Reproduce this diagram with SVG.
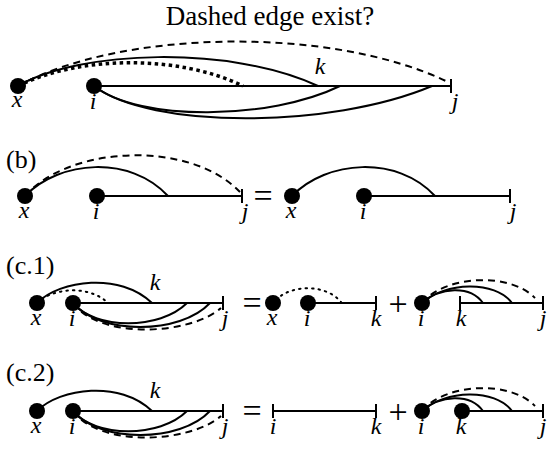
<svg xmlns="http://www.w3.org/2000/svg" width="547" height="450" viewBox="0 0 547 450">
<style>
.e{fill:none;stroke:#000;stroke-width:2}
.d{stroke-dasharray:7 5}
.dt{stroke-width:3.5;stroke-dasharray:3.5 3.5}
.ds{stroke-dasharray:1.5 5;stroke-linecap:round}
</style>
<g id="labels">
<text x="270" y="25" text-anchor="middle" font-size="27" font-family="Liberation Serif">Dashed edge exist?</text>
<text x="6" y="168" font-size="26" font-family="Liberation Serif">(b)</text>
<text x="6" y="274" font-size="26" font-family="Liberation Serif">(c.1)</text>
<text x="6" y="381" font-size="26" font-family="Liberation Serif">(c.2)</text>
</g>

<g id="connectors">
<path class="e" d="M94,86 H451"/>
<path class="e" d="M451,79 V93"/>
<path class="e d" d="M18,86 C120,30 330,25 448,82"/>
<path class="e" d="M18,86 C80,50 230,45 318,86"/>
<path class="e dt" d="M18,86 C80,55 180,55 243,86"/>
<path class="e" d="M94,86 C140,122 270,120 340,86"/>
<path class="e" d="M94,86 C150,129 330,129 432,86"/>
<path class="e" d="M97,196 H242"/>
<path class="e" d="M242,189 V203"/>
<path class="e" d="M25,196 C60,160 130,155 168,196"/>
<path class="e d" d="M25,196 C70,145 190,140 240,192"/>
<path class="e" d="M364,196 H510"/>
<path class="e" d="M510,189 V203"/>
<path class="e" d="M292,196 C327,160 397,155 435,196"/>
<path class="e" d="M73,303 H223"/>
<path class="e" d="M223,296 V310"/>
<path class="e" d="M37,303 C60,280 120,272 152,303"/>
<path class="e ds" d="M42,299 C60,287 90,287 107,302"/>
<path class="e" d="M73,303 C95,330 160,330 187,303"/>
<path class="e" d="M73,303 C100,335 180,335 210,303"/>
<path class="e d" d="M73,303 C100,340 190,335 221,308"/>
<path class="e" d="M308,303 H376"/>
<path class="e" d="M376,296 V310"/>
<path class="e ds" d="M276,300 C290,285 325,283 341,302"/>
<path class="e" d="M460,303 H543"/>
<path class="e" d="M460,296 V310"/>
<path class="e" d="M543,296 V310"/>
<path class="e" d="M422,303 C440,287 470,285 483,303"/>
<path class="e" d="M422,303 C445,282 495,280 512,303"/>
<path class="e d" d="M422,303 C445,275 510,272 535,298"/>
<path class="e" d="M73,411 H223"/>
<path class="e" d="M223,404 V418"/>
<path class="e" d="M37,411 C60,388 120,380 152,411"/>
<path class="e" d="M73,411 C95,438 160,438 187,411"/>
<path class="e" d="M73,411 C100,443 180,443 210,411"/>
<path class="e d" d="M73,411 C100,448 190,443 221,416"/>
<path class="e" d="M273,411 H376"/>
<path class="e" d="M273,404 V418"/>
<path class="e" d="M376,404 V418"/>
<path class="e" d="M462,411 H543"/>
<path class="e" d="M543,404 V418"/>
<path class="e" d="M422,411 C440,395 470,393 483,411"/>
<path class="e" d="M422,411 C445,390 495,388 512,411"/>
<path class="e d" d="M422,411 C445,383 510,380 535,406"/>
</g>

<g id="operators">
<text x="263" y="207" font-size="34" text-anchor="middle" font-family="Liberation Serif">=</text>
<text x="252" y="314" font-size="34" text-anchor="middle" font-family="Liberation Serif">=</text>
<text x="398" y="315" font-size="34" text-anchor="middle" font-family="Liberation Serif">+</text>
<text x="252" y="422" font-size="34" text-anchor="middle" font-family="Liberation Serif">=</text>
<text x="398" y="423" font-size="34" text-anchor="middle" font-family="Liberation Serif">+</text>
</g>

<g id="nodes">
<g id="r1-x"><circle cx="18" cy="86" r="8"/><text x="17" y="107" font-size="24" font-style="italic" text-anchor="middle" font-family="Liberation Serif">x</text></g>
<g id="r1-i"><circle cx="94" cy="86" r="8"/><text x="93" y="109" font-size="24" font-style="italic" text-anchor="middle" font-family="Liberation Serif">i</text></g>
<g id="r1-k"><text x="320" y="74" font-size="24" font-style="italic" text-anchor="middle" font-family="Liberation Serif">k</text></g>
<g id="r1-j"><text x="455" y="109" font-size="24" font-style="italic" text-anchor="middle" font-family="Liberation Serif">j</text></g>
<g id="rb-x"><circle cx="25" cy="196" r="8"/><text x="24" y="218" font-size="24" font-style="italic" text-anchor="middle" font-family="Liberation Serif">x</text></g>
<g id="rb-i"><circle cx="97" cy="196" r="8"/><text x="96" y="219" font-size="24" font-style="italic" text-anchor="middle" font-family="Liberation Serif">i</text></g>
<g id="rb-j"><text x="245" y="219" font-size="24" font-style="italic" text-anchor="middle" font-family="Liberation Serif">j</text></g>
<g id="rb-x2"><circle cx="292" cy="196" r="8"/><text x="291" y="218" font-size="24" font-style="italic" text-anchor="middle" font-family="Liberation Serif">x</text></g>
<g id="rb-i2"><circle cx="364" cy="196" r="8"/><text x="363" y="219" font-size="24" font-style="italic" text-anchor="middle" font-family="Liberation Serif">i</text></g>
<g id="rb-j2"><text x="513" y="219" font-size="24" font-style="italic" text-anchor="middle" font-family="Liberation Serif">j</text></g>
<g id="c1-x"><circle cx="37" cy="303" r="8"/><text x="36" y="325" font-size="24" font-style="italic" text-anchor="middle" font-family="Liberation Serif">x</text></g>
<g id="c1-i"><circle cx="73" cy="303" r="8"/><text x="72" y="326" font-size="24" font-style="italic" text-anchor="middle" font-family="Liberation Serif">i</text></g>
<g id="c1-k"><text x="155" y="290" font-size="24" font-style="italic" text-anchor="middle" font-family="Liberation Serif">k</text></g>
<g id="c1-j"><text x="225" y="326" font-size="24" font-style="italic" text-anchor="middle" font-family="Liberation Serif">j</text></g>
<g id="c1-x2"><circle cx="273" cy="303" r="8"/><text x="272" y="325" font-size="24" font-style="italic" text-anchor="middle" font-family="Liberation Serif">x</text></g>
<g id="c1-i2"><circle cx="308" cy="303" r="8"/><text x="307" y="326" font-size="24" font-style="italic" text-anchor="middle" font-family="Liberation Serif">i</text></g>
<g id="c1-k2"><text x="376" y="326" font-size="24" font-style="italic" text-anchor="middle" font-family="Liberation Serif">k</text></g>
<g id="c1-i3"><circle cx="422" cy="303" r="8"/><text x="421" y="326" font-size="24" font-style="italic" text-anchor="middle" font-family="Liberation Serif">i</text></g>
<g id="c1-k3"><text x="461" y="326" font-size="24" font-style="italic" text-anchor="middle" font-family="Liberation Serif">k</text></g>
<g id="c1-j3"><text x="543" y="326" font-size="24" font-style="italic" text-anchor="middle" font-family="Liberation Serif">j</text></g>
<g id="c2-x"><circle cx="37" cy="411" r="8"/><text x="36" y="433" font-size="24" font-style="italic" text-anchor="middle" font-family="Liberation Serif">x</text></g>
<g id="c2-i"><circle cx="73" cy="411" r="8"/><text x="72" y="434" font-size="24" font-style="italic" text-anchor="middle" font-family="Liberation Serif">i</text></g>
<g id="c2-k"><text x="155" y="398" font-size="24" font-style="italic" text-anchor="middle" font-family="Liberation Serif">k</text></g>
<g id="c2-j"><text x="225" y="434" font-size="24" font-style="italic" text-anchor="middle" font-family="Liberation Serif">j</text></g>
<g id="c2-i2"><text x="273" y="434" font-size="24" font-style="italic" text-anchor="middle" font-family="Liberation Serif">i</text></g>
<g id="c2-k2"><text x="376" y="434" font-size="24" font-style="italic" text-anchor="middle" font-family="Liberation Serif">k</text></g>
<g id="c2-i3"><circle cx="422" cy="411" r="8"/><text x="421" y="434" font-size="24" font-style="italic" text-anchor="middle" font-family="Liberation Serif">i</text></g>
<g id="c2-k3"><circle cx="462" cy="411" r="8"/><text x="461" y="434" font-size="24" font-style="italic" text-anchor="middle" font-family="Liberation Serif">k</text></g>
<g id="c2-j3"><text x="543" y="434" font-size="24" font-style="italic" text-anchor="middle" font-family="Liberation Serif">j</text></g>
</g>
</svg>
